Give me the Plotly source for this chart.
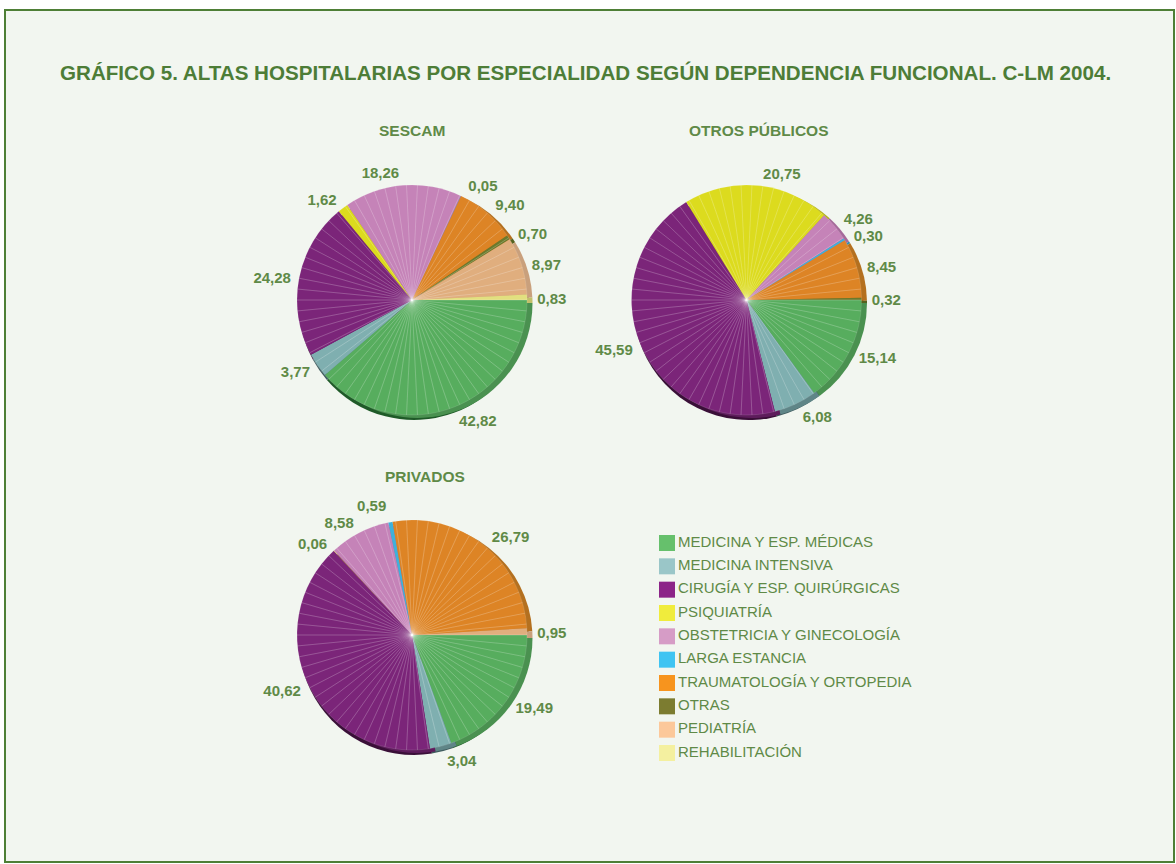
import plotly.graph_objects as go

W, H = 1176, 864

especialidades = ['MEDICINA Y ESP. MÉDICAS', 'MEDICINA INTENSIVA', 'CIRUGÍA Y ESP. QUIRÚRGICAS', 'PSIQUIATRÍA',
                  'OBSTETRICIA Y GINECOLOGÍA', 'LARGA ESTANCIA', 'TRAUMATOLOGÍA Y ORTOPEDIA', 'OTRAS',
                  'PEDIATRÍA', 'REHABILITACIÓN']

# None = la categoria no aparece en ese grafico
sescam = [42.82, 3.77, 24.28, 1.62, 18.26, 0.05, 9.40, 0.70, 8.97, 0.83]
otros_publicos = [15.14, 6.08, 45.59, 20.75, 4.26, 0.30, 8.45, 0.32, None, None]
privados = [19.49, 3.04, 40.62, 0.06, 8.58, 0.59, 26.79, None, 0.95, None]

colores_leyenda = ['#66c06c', '#9ac6c8', '#8c2488', '#f0ec3c', '#d69cc6', '#40c4f2', '#f7941e', '#7c7c30', '#fcc89a', '#f4f0a0']
colores_cara = ['#57ad5e', '#7fafb0', '#7b2579', '#dcdb1e', '#c583b8', '#3fb1da', '#dd8425', '#6b7a2c', '#e0ae7e', '#e2e07f']
colores_canto = ['#4a9150', '#5f8587', '#5e1c5c', '#b0ae18', '#a56a9a', '#3090b4', '#b4701f', '#55621f', '#c9a07c', '#c2c06a']
colores_sombra = ['#1f5a28', '#3f5c5e', '#3a0f38', '#77760f', '#7a4a70', '#206c88', '#80500f', '#3a4415', '#99795a', '#96944c']

VERDE_TEXTO = '#5f8a47'
VERDE_TITULO = '#4d7d37'
FONDO = '#f2f6f0'
FUENTE = 'Liberation Sans'
N_RAYAS = 66  # rayas claras radiales del render original, solo decorativas


def dominio(cx, cy, r):
    # pasa centro y radio en pixeles a dominio del papel
    return dict(x=[(cx - r) / W, (cx + r) / W], y=[1 - (cy + r) / H, 1 - (cy - r) / H])


def add_tarta(fig, valores, cx, cy, r=115):
    idx = [i for i, v in enumerate(valores) if v is not None]
    etiquetas = [especialidades[i] for i in idx]
    vals = [valores[i] for i in idx]
    # tarta transparente algo mayor: solo lleva las etiquetas, para separarlas del canto
    fig.add_trace(go.Pie(
        labels=etiquetas, values=vals, sort=False, direction='clockwise', rotation=90,
        domain=dominio(cx + 1, cy + 1, r + 5),
        marker=dict(colors=['rgba(0,0,0,0)'] * len(vals), line=dict(width=0)),
        texttemplate='%{value:.2f}', textposition='outside',
        outsidetextfont=dict(family=FUENTE, size=15, color=VERDE_TEXTO, weight='bold'),
        hoverinfo='skip', showlegend=False,
    ))
    # canto del efecto 3D: la misma tarta, mas oscura y desplazada
    for dx, dy, paleta in [(2, 5, colores_sombra), (5.5, 3, colores_canto)]:
        fig.add_trace(go.Pie(
            labels=etiquetas, values=vals, sort=False, direction='clockwise', rotation=90,
            domain=dominio(cx + dx, cy + dy, r),
            marker=dict(colors=[paleta[i] for i in idx], line=dict(width=0)),
            textinfo='none', hoverinfo='skip', showlegend=False,
        ))
    fig.add_trace(go.Pie(
        labels=etiquetas, values=vals, sort=False, direction='clockwise', rotation=90,
        domain=dominio(cx, cy, r),
        marker=dict(colors=[colores_cara[i] for i in idx], line=dict(width=0)),
        textinfo='none', showlegend=False,
    ))
    fig.add_trace(go.Pie(
        values=[1] * N_RAYAS, sort=False, rotation=90, domain=dominio(cx, cy, r),
        marker=dict(colors=['rgba(0,0,0,0)'] * N_RAYAS, line=dict(color='rgba(255,255,255,0.2)', width=0.6)),
        textinfo='none', hoverinfo='skip', showlegend=False,
    ))


fig = go.Figure()

add_tarta(fig, sescam, 412, 300)
add_tarta(fig, otros_publicos, 746.5, 300)
add_tarta(fig, privados, 412, 635)

# Leyenda dibujada aparte para controlar el cuadrado y el interlineado
fig.add_trace(go.Scatter(
    x=[0] * len(especialidades), y=list(range(len(especialidades))),
    mode='markers+text', text=especialidades, textposition='middle right',
    textfont=dict(family=FUENTE, size=15, color=VERDE_TEXTO),
    marker=dict(symbol='square', size=16, color=colores_leyenda),
    cliponaxis=False, hoverinfo='skip', showlegend=False,
))

titulos = [('SESCAM', 411.5, 131), ('OTROS PÚBLICOS', 759, 131), ('PRIVADOS', 425, 476)]
for texto, px, py in titulos:
    fig.add_annotation(text=texto, x=px / W, y=1 - py / H, xref='paper', yref='paper', showarrow=False,
                       xanchor='center', yanchor='middle',
                       font=dict(family=FUENTE, size=15.5, color=VERDE_TEXTO, weight='bold'))

fig.add_annotation(text='GRÁFICO 5. ALTAS HOSPITALARIAS POR ESPECIALIDAD SEGÚN DEPENDENCIA FUNCIONAL. C-LM 2004.',
                   x=585.5 / W, y=1 - 73 / H, xref='paper', yref='paper', showarrow=False,
                   xanchor='center', yanchor='middle',
                   font=dict(family=FUENTE, size=20.6, color=VERDE_TITULO, weight='bold'))

# Marco exterior
fig.add_shape(type='rect', xref='paper', yref='paper', x0=5 / W, x1=1174 / W, y0=1 - 862 / H, y1=1 - 10 / H,
              line=dict(color='#4e7f36', width=2), fillcolor=FONDO, layer='below')

fig.update_layout(
    width=W, height=H,
    margin=dict(l=0, r=0, t=0, b=0),
    paper_bgcolor='white',
    plot_bgcolor='rgba(0,0,0,0)',
    separators=',.',
    showlegend=False,
    xaxis=dict(domain=[667 / W, 1000 / W], range=[0, 1], visible=False),
    yaxis=dict(domain=[1 - 753 / H, 1 - 543 / H], range=[9, 0], visible=False),
)

# sin margen de pagina y sin las lineas guia que plotly pone a las etiquetas desplazadas
css = "body{margin:0}html{overflow:hidden}path.textline{display:none}"
fig.write_html("out.html", config={'displayModeBar': False},
               post_script=f"document.head.insertAdjacentHTML('beforeend','<style>{css}</style>');")
